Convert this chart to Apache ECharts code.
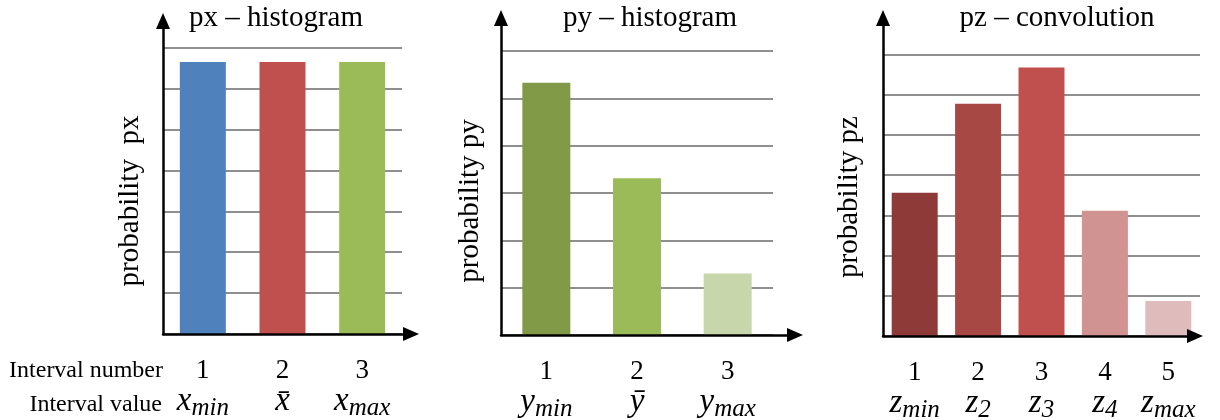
<!DOCTYPE html>
<html><head><meta charset="utf-8">
<script src="https://cdn.jsdelivr.net/npm/echarts@6/dist/echarts.min.js"></script>
<style>html,body{margin:0;padding:0;background:#fff}#c{width:1220px;height:420px}</style>
</head><body><div id="c"></div>
<script>
// ---- data ----
const pxCategories = ['1', '2', '3'];
const pxSymbols = ['x', 'x\u0304', 'x'];
const pxSubscripts = ['min', '', 'max'];
const pxValues = [6.65, 6.65, 6.65];

const pyCategories = ['1', '2', '3'];
const pySymbols = ['y', 'y\u0304', 'y'];
const pySubscripts = ['min', '', 'max'];
const pyValues = [5.33, 3.31, 1.30];

const pzCategories = ['1', '2', '3', '4', '5'];
const pzSymbols = ['z', 'z', 'z', 'z', 'z'];
const pzSubscripts = ['min', '2', '3', '4', 'max'];
const pzValues = [3.56, 5.77, 6.67, 3.11, 0.87];

const chartTitles = ['px \u2013 histogram', 'py \u2013 histogram', 'pz \u2013 convolution'];
const yAxisNames = ['probability  px', 'probability py', 'probability pz'];
const yMaxValues = [7, 6, 7];
const rowLabels = ['Interval number', 'Interval value'];

// ---- styles ----
const pxColors = ['#4F81BD', '#C0504D', '#9BBB59'];
const pyColors = ['#809A48', '#9BBB59', '#C7D6AB'];
const pzColors = ['#8E3A38', '#A84845', '#C0504D', '#D19392', '#E0BBBB'];

const SERIF = '"Liberation Serif", "Times New Roman", serif';

const panels = [
  { cats: pxCategories, syms: pxSymbols, subs: pxSubscripts, vals: pxValues, colors: pxColors,
    grid: { left: 163, top: 47.7, width: 239, height: 286.3 },
    axisGrid: { left: 163, top: 21, width: 248, height: 313 },
    barWidth: 46, titleX: 276, nameX: 130, nameY: 201 },
  { cats: pyCategories, syms: pySymbols, subs: pySubscripts, vals: pyValues, colors: pyColors,
    grid: { left: 501, top: 51, width: 272, height: 284 },
    axisGrid: { left: 501, top: 18, width: 294, height: 317 },
    barWidth: 48, titleX: 650, nameX: 470, nameY: 201 },
  { cats: pzCategories, syms: pzSymbols, subs: pzSubscripts, vals: pzValues, colors: pzColors,
    grid: { left: 883, top: 54.3, width: 317, height: 281.7 },
    axisGrid: { left: 883, top: 18, width: 312, height: 318 },
    barWidth: 46, titleX: 1057, nameX: 849, nameY: 197 }
];

const grid = [], xAxis = [], yAxis = [], series = [], title = [], graphic = [];

panels.forEach((p, i) => {
  const gi = grid.length;
  grid.push(Object.assign({ containLabel: false, outerBoundsMode: 'none' }, p.grid));
  grid.push(Object.assign({ containLabel: false, outerBoundsMode: 'none' }, p.axisGrid));

  // data axes
  xAxis.push({
    type: 'category', gridIndex: gi, data: p.cats,
    axisLine: { show: false }, axisTick: { show: false }, splitLine: { show: false },
    axisLabel: {
      interval: 0, margin: 22,
      formatter: (val, idx) => {
        let s = '{n|' + val + '}\n{v|' + p.syms[idx] + '}';
        if (p.subs[idx]) s += '{s|' + p.subs[idx] + '}';
        return s;
      },
      rich: {
        n: { fontFamily: SERIF, fontSize: 27, lineHeight: 29, color: '#000' },
        v: { fontFamily: SERIF, fontStyle: 'italic', fontSize: 33, lineHeight: 32, verticalAlign: 'top', color: '#000' },
        s: { fontFamily: SERIF, fontStyle: 'italic', fontSize: 25, lineHeight: 36, verticalAlign: 'bottom', color: '#000' }
      }
    }
  });
  yAxis.push({
    type: 'value', gridIndex: gi, min: 0, max: yMaxValues[i], interval: 1,
    axisLine: { show: false }, axisTick: { show: false }, axisLabel: { show: false },
    splitLine: { show: true, lineStyle: { color: '#8f8f8f', width: 2 } }
  });
  // arrow axes
  const arrowLine = { show: true, symbol: ['none', 'triangle'], symbolSize: [14, 16],
    lineStyle: { color: '#000', width: 2.5 } };
  xAxis.push({ type: 'value', gridIndex: gi + 1, min: 0, max: 1, z: 10,
    axisLine: arrowLine, axisTick: { show: false }, axisLabel: { show: false }, splitLine: { show: false } });
  yAxis.push({ type: 'value', gridIndex: gi + 1, min: 0, max: 1, z: 10,
    axisLine: arrowLine, axisTick: { show: false }, axisLabel: { show: false }, splitLine: { show: false } });

  series.push({
    type: 'bar', xAxisIndex: gi, yAxisIndex: gi, barWidth: p.barWidth,
    data: p.vals.map((v, k) => ({ value: v, itemStyle: { color: p.colors[k] } })),
    silent: true, animation: false
  });

  title.push({
    text: chartTitles[i], left: p.titleX, top: 4, textAlign: 'center', padding: 0,
    textStyle: { fontFamily: SERIF, fontSize: 29, fontWeight: 'normal', color: '#000' }
  });

  graphic.push({
    type: 'text', x: p.nameX, y: p.nameY, rotation: Math.PI / 2,
    style: { text: yAxisNames[i], fontFamily: SERIF, fontSize: 29, fill: '#000', align: 'center', verticalAlign: 'middle' }
  });
});

graphic.push({ type: 'text', x: 163, y: 371,
  style: { text: rowLabels[0], fontFamily: SERIF, fontSize: 24, fill: '#000', align: 'right', verticalAlign: 'middle' } });
graphic.push({ type: 'text', x: 162, y: 405,
  style: { text: rowLabels[1], fontFamily: SERIF, fontSize: 24, fill: '#000', align: 'right', verticalAlign: 'middle' } });

const chart = echarts.init(document.getElementById('c'), null, { renderer: 'canvas' });
chart.setOption({ animation: false, backgroundColor: '#fff', title, grid, xAxis, yAxis, series, graphic });
</script></body></html>
